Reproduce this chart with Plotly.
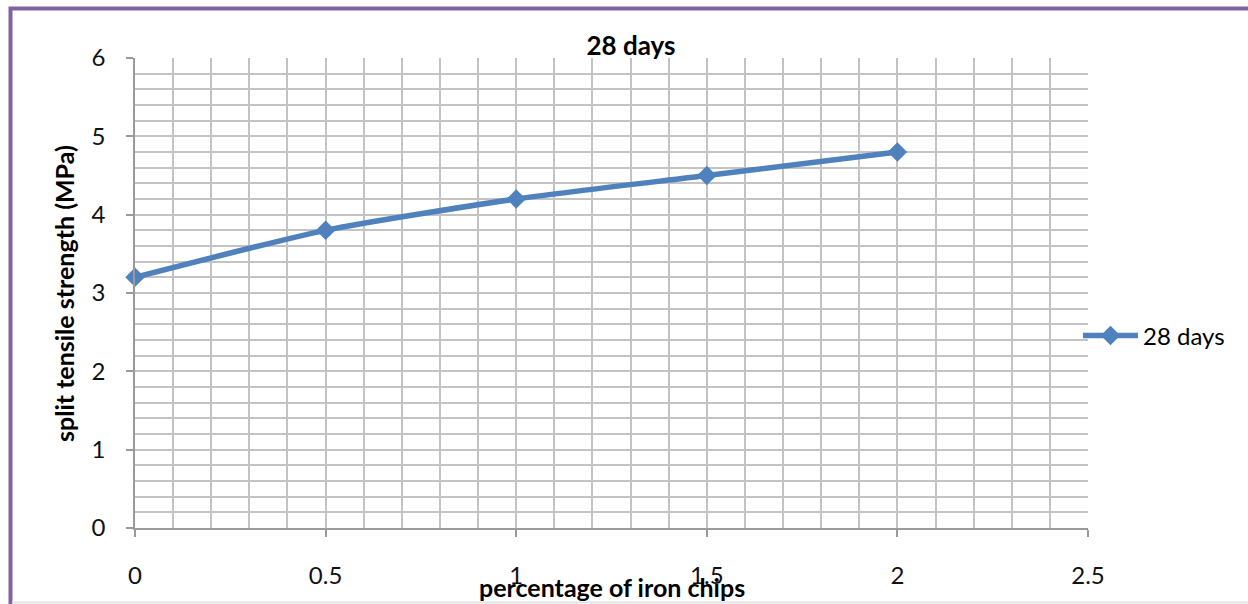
import plotly.graph_objects as go

# iron chip content (%) and 28-day split tensile strength (MPa)
iron_pct = [0, 0.5, 1, 1.5, 2]
strength_28d = [3.2, 3.8, 4.2, 4.5, 4.8]
series_name = "28 days"

W, H = 1248, 604
L, R, T, B = 135, 160, 58, 76
pw, ph = W - L - R, H - T - B

FONT = "Lato, Open Sans, sans-serif"
BLUE = "#4F81BD"
GRID = "#c3c3c3"
AXIS = "#9a9a9a"

fig = go.Figure()
fig.add_trace(go.Scatter(
    x=iron_pct, y=strength_28d, name=series_name,
    mode="lines+markers", cliponaxis=False,
    line=dict(color=BLUE, width=5.5, shape="spline", smoothing=0.6),
    marker=dict(symbol="diamond", size=15, color=BLUE),
))

axis_common = dict(
    showline=True, linecolor=AXIS, linewidth=1.5,
    showgrid=True, gridcolor=GRID, gridwidth=1.5,
    zeroline=False, ticks="outside", ticklen=7, tickcolor=AXIS, tickwidth=1.5,
    tickfont=dict(family=FONT, size=24, color="#111"),
)

fig.update_xaxes(range=[0, 2.5], dtick=0.5, tick0=0,
                 minor=dict(dtick=0.1, showgrid=True, gridcolor=GRID, gridwidth=1.5, ticks=""),
                 ticklabelstandoff=18, **axis_common)
fig.update_yaxes(range=[0, 6], dtick=1, tick0=0,
                 minor=dict(dtick=0.2, showgrid=True, gridcolor=GRID, gridwidth=1.5, ticks=""),
                 ticklabelstandoff=16, **axis_common)

def px_x(p):
    return (p - L) / pw

def px_y(p):
    return (H - B - p) / ph

fig.update_layout(
    width=W, height=H,
    margin=dict(l=L, r=R, t=T, b=B),
    paper_bgcolor="white", plot_bgcolor="white",
    title=dict(text="<b>28 days</b>", x=631 / W, xanchor="center",
               y=1 - 46 / H, yanchor="middle",
               font=dict(family=FONT, size=26, color="#000")),
    showlegend=True,
    legend=dict(x=px_x(1078), y=px_y(336), xanchor="left", yanchor="middle",
                font=dict(family=FONT, size=24, color="#000"),
                bgcolor="rgba(0,0,0,0)", itemwidth=55),
    annotations=[
        dict(text="<b>percentage of iron chips</b>", xref="paper", yref="paper",
             x=px_x(612), y=px_y(587), xanchor="center", yanchor="middle",
             showarrow=False, font=dict(family=FONT, size=25, color="#000")),
        dict(text="<b>split tensile strength (MPa)</b>", xref="paper", yref="paper",
             x=px_x(64), y=px_y(294), xanchor="center", yanchor="middle",
             textangle=-90, showarrow=False,
             font=dict(family=FONT, size=25, color="#000")),
    ],
    shapes=[
        # chart frame (top and left edges visible)
        dict(type="rect", xref="paper", yref="paper",
             x0=px_x(10.5), x1=px_x(W + 20), y0=px_y(H + 20), y1=px_y(8.5),
             line=dict(color="#8064A2", width=4), fillcolor="rgba(0,0,0,0)", layer="below"),
        dict(type="line", xref="paper", yref="paper",
             x0=px_x(12), x1=px_x(W), y0=px_y(602.5), y1=px_y(602.5),
             line=dict(color="#e2e2e2", width=2), layer="below"),
    ],
)

fig.write_html("out.html")
